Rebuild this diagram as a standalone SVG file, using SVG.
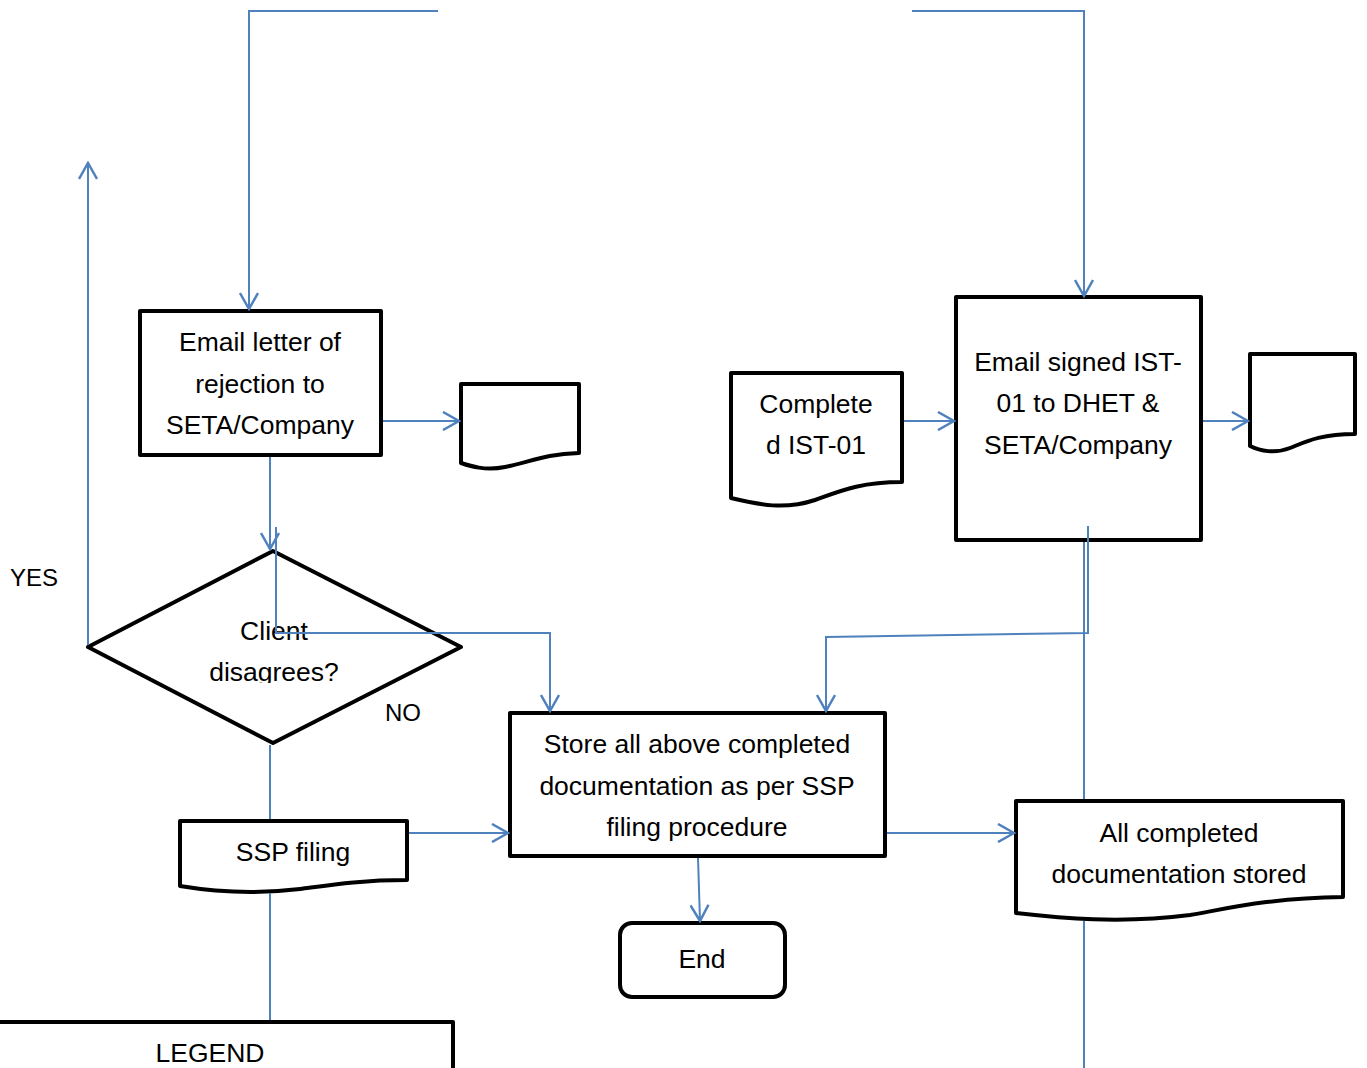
<svg xmlns="http://www.w3.org/2000/svg" width="1367" height="1068" viewBox="0 0 1367 1068">
<defs>
<style>
.n{fill:#fff;stroke:#000;stroke-width:4;stroke-linejoin:round}
.c{fill:none;stroke:#4F81BD;stroke-width:2}
.t{font-family:"Liberation Sans",Arial,sans-serif;font-size:26.5px;fill:#000;text-anchor:middle}
.l{font-family:"Liberation Sans",Arial,sans-serif;font-size:24px;fill:#000}
</style>
<marker id="a" viewBox="0 0 20 20" refX="18" refY="10" markerWidth="20" markerHeight="20" markerUnits="userSpaceOnUse" orient="auto">
<path d="M2,1 L18,10 L2,19" fill="none" stroke="#4F81BD" stroke-width="2.5"/>
</marker>
<clipPath id="dc"><rect x="80" y="540" width="400" height="143"/></clipPath>
</defs>
<rect width="1367" height="1068" fill="#fff"/>
<g id="rejection">
<rect class="n" x="140" y="311" width="241" height="144"/>
<text class="t" x="260" y="351">Email letter of</text>
<text class="t" x="260" y="393">rejection to</text>
<text class="t" x="260" y="434">SETA/Company</text>
</g>
<g id="doc-left">
<path class="n" d="M461,384 H579 V453 C545,454 530,462 505,467 C485,471 470,466 461,463 Z"/>
</g>
<g id="decision">
<path class="n" d="M88,647 L273,551 L461,647 L273,743 Z"/>
<g clip-path="url(#dc)">
<text class="t" x="274" y="640">Client</text>
<text class="t" x="274" y="681">disagrees?</text>
</g>
</g>
<g id="labels">
<text class="l" x="10" y="586">YES</text>
<text class="l" x="385" y="721">NO</text>
</g>
<g id="ssp">
<path class="n" d="M180,821 H407 V880 C360,880 330,885 300,889 C250,895 210,891 180,886 Z"/>
<text class="t" x="293" y="861">SSP filing</text>
</g>
<g id="store">
<rect class="n" x="510" y="713" width="375" height="143"/>
<text class="t" x="697" y="753">Store all above completed</text>
<text class="t" x="697" y="795">documentation as per SSP</text>
<text class="t" x="697" y="836">filing procedure</text>
</g>
<g id="end">
<rect class="n" x="620" y="923" width="165" height="74" rx="12"/>
<text class="t" x="702" y="968">End</text>
</g>
<g id="stored">
<path class="n" d="M1016,801 H1343 V897 C1270,898 1230,908 1190,915 C1120,924 1060,918 1016,913 Z"/>
<text class="t" x="1179" y="842">All completed</text>
<text class="t" x="1179" y="883">documentation stored</text>
</g>
<g id="completed">
<path class="n" d="M731,373 H902 V482 C860,482 840,491 815,500 C785,510 760,505 731,498 Z"/>
<text class="t" x="816" y="413">Complete</text>
<text class="t" x="816" y="454">d IST-01</text>
</g>
<g id="email-signed">
<rect class="n" x="956" y="297" width="245" height="243"/>
<text class="t" x="1078" y="371">Email signed IST-</text>
<text class="t" x="1078" y="412">01 to DHET &amp;</text>
<text class="t" x="1078" y="454">SETA/Company</text>
</g>
<g id="doc-right">
<path class="n" d="M1250,354 H1355 V434 C1320,434 1305,442 1290,448 C1275,454 1260,451 1250,446 Z"/>
</g>
<g id="legend">
<path class="n" d="M-5,1022 H453 V1075 H-5 Z"/>
<text class="t" x="210" y="1062">LEGEND</text>
</g>
<g id="connectors">
<path class="c" d="M438,11 H249 V309" marker-end="url(#a)"/>
<path class="c" d="M912,11 H1084 V296" marker-end="url(#a)"/>
<path class="c" d="M383,421 H459" marker-end="url(#a)"/>
<path class="c" d="M270,457 V549" marker-end="url(#a)"/>
<path class="c" d="M276,527 V633 H550 V711" marker-end="url(#a)"/>
<path class="c" d="M88,645 V163" marker-end="url(#a)"/>
<path class="c" d="M270,745 V819"/>
<path class="c" d="M270,893 V1020"/>
<path class="c" d="M409,833 H508" marker-end="url(#a)"/>
<path class="c" d="M698,858 L700,921" marker-end="url(#a)"/>
<path class="c" d="M887,833 H1014" marker-end="url(#a)"/>
<path class="c" d="M904,421 H954" marker-end="url(#a)"/>
<path class="c" d="M1203,421 H1248" marker-end="url(#a)"/>
<path class="c" d="M1088,526 V633 L826,637 V711" marker-end="url(#a)"/>
<path class="c" d="M1084,542 V799"/>
<path class="c" d="M1084,921 V1068"/>
</g>
</svg>
